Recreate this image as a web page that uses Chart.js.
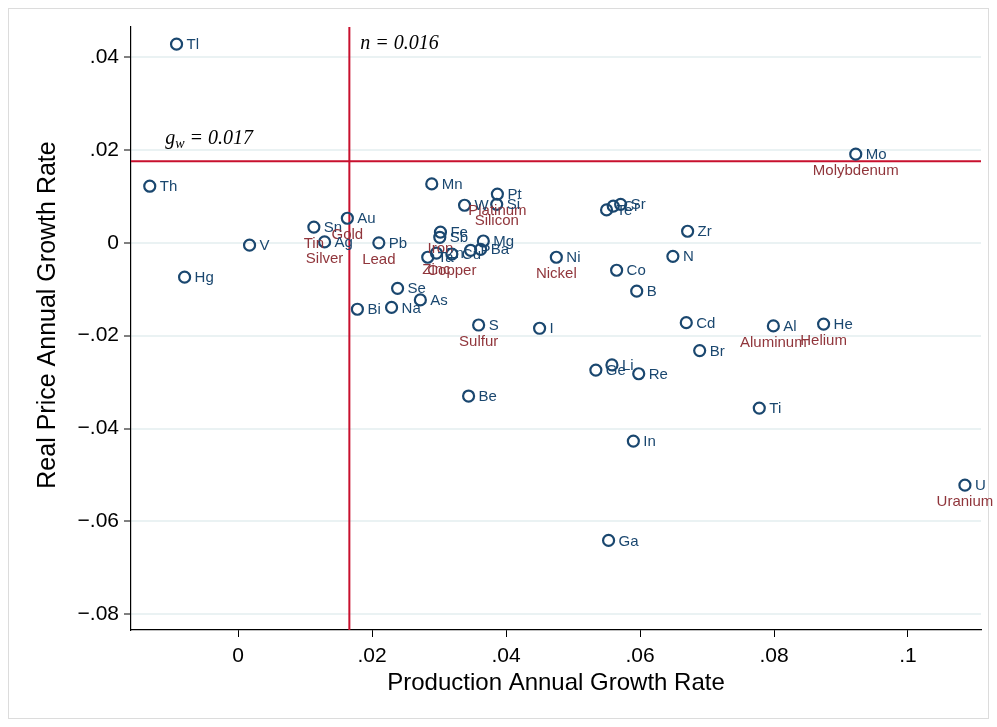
<!DOCTYPE html>
<html>
<head>
<meta charset="utf-8">
<script src="https://cdn.jsdelivr.net/npm/chart.js@4.4.1/dist/chart.umd.min.js"></script>
<style>
  html, body { margin: 0; padding: 0; background: #ffffff; }
  #wrap { position: relative; width: 997px; height: 727px; }
  canvas { display: block; }
</style>
</head>
<body>
<div id="wrap"><canvas id="c" width="997" height="727"></canvas></div>
<script>
// ---- data ----
const symbols = ["Tl","Th","V","Hg","Sn","Au","Ag","Pb","Mn","Pt","W","Si","Fe","Sb","Mg","Ta","Zn","Cu","P","Ba","Ni","Se","As","Bi","Na","S","I","Be","Ge","Li","Re","In","Ga","Ti","U","Co","B","N","Zr","Cd","Br","Al","He","Mo","Te","Cr","Sr"];
const productionGrowth = [-0.0092,-0.0132,0.0017,-0.0080,0.0113,0.0163,0.0129,0.0210,0.0289,0.0387,0.0338,0.0386,0.0302,0.0301,0.0366,0.0283,0.0296,0.0319,0.0347,0.0362,0.0475,0.0238,0.0272,0.0178,0.0229,0.0359,0.0450,0.0344,0.0534,0.0558,0.0598,0.0590,0.0553,0.0778,0.1085,0.0565,0.0595,0.0649,0.0671,0.0669,0.0689,0.0799,0.0874,0.0922,0.0550,0.0560,0.0571];
const priceGrowth = [0.0428,0.0122,-0.0005,-0.0074,0.0034,0.0053,0.0002,0.0000,0.0127,0.0105,0.0081,0.0083,0.0023,0.0012,0.0004,-0.0031,-0.0022,-0.0024,-0.0016,-0.0014,-0.0031,-0.0098,-0.0123,-0.0143,-0.0139,-0.0177,-0.0184,-0.0330,-0.0274,-0.0263,-0.0282,-0.0427,-0.0641,-0.0356,-0.0522,-0.0059,-0.0104,-0.0029,0.0025,-0.0172,-0.0232,-0.0179,-0.0175,0.0191,0.0071,0.0079,0.0083];
const highlightSymbols = ["Mo","Pt","Si","Au","Sn","Ag","Pb","Fe","Zn","Cu","Ni","S","Al","He","U"];
const highlightNames = ["Molybdenum","Platinum","Silicon","Gold","Tin","Silver","Lead","Iron","Zinc","Copper","Nickel","Sulfur","Aluminum","Helium","Uranium"];
const xTicks = [0, 0.02, 0.04, 0.06, 0.08, 0.1];
const yTicks = [-0.08, -0.06, -0.04, -0.02, 0, 0.02, 0.04];
const popGrowthLine = 0.0166;   // n = 0.016
const worldGrowthLine = 0.0176; // g_w = 0.017
const xRange = [-0.016, 0.1109];
const yRange = [-0.0834, 0.0465];
const xTitle = 'Production Annual Growth Rate';
const yTitle = 'Real Price Annual Growth Rate';

// ---- styling ----
const NAVY = '#1a476f';
const MAROON = '#90353b';
const REDLINE = '#c8102e';
const SANS = '"Liberation Sans", Arial, sans-serif';
const SERIF = '"Liberation Serif", "Times New Roman", serif';

function fmtTick(v) {
  if (Math.abs(v) < 1e-9) return '0';
  let s = parseFloat(Math.abs(v).toFixed(4)).toString().replace(/^0/, '');
  return (v < 0 ? '\u2212' : '') + s;
}

const points = symbols.map((s, i) => ({ x: productionGrowth[i], y: priceGrowth[i] }));

const frame = {
  id: 'frame',
  beforeDraw(chart) {
    const ctx = chart.ctx;
    ctx.save();
    ctx.fillStyle = '#ffffff';
    ctx.fillRect(0, 0, chart.width, chart.height);
    ctx.strokeStyle = '#dcdcdc';
    ctx.lineWidth = 1;
    ctx.strokeRect(8.5, 8.5, 980, 710);
    ctx.restore();
  },
  afterDraw(chart) {
    const ctx = chart.ctx;
    ctx.save();
    ctx.translate(48, 315);
    ctx.rotate(-Math.PI / 2);
    ctx.fillStyle = '#000';
    ctx.textAlign = 'center';
    ctx.textBaseline = 'middle';
    ctx.font = '25px ' + SANS;
    ctx.fillText(yTitle, 0, 0);
    ctx.restore();
  }
};

const refLines = {
  id: 'refLines',
  beforeDatasetsDraw(chart) {
    const { ctx, chartArea: a, scales: { x, y } } = chart;
    ctx.save();
    ctx.strokeStyle = REDLINE;
    ctx.lineWidth = 2;
    const px = x.getPixelForValue(popGrowthLine);
    const py = y.getPixelForValue(worldGrowthLine);
    ctx.beginPath();
    ctx.moveTo(px, a.top); ctx.lineTo(px, a.bottom);
    ctx.moveTo(a.left, py); ctx.lineTo(a.right, py);
    ctx.stroke();
    ctx.fillStyle = '#000';
    ctx.textBaseline = 'middle';
    ctx.textAlign = 'left';
    ctx.font = 'italic 20px ' + SERIF;
    ctx.fillText('n = 0.016', px + 11, y.getPixelForValue(0.0429));
    const gy = py - 22;
    let gx = x.getPixelForValue(-0.0109);
    ctx.fillText('g', gx, gy);
    gx += ctx.measureText('g').width;
    ctx.font = 'italic 14px ' + SERIF;
    ctx.fillText('w', gx, gy + 5);
    gx += ctx.measureText('w').width;
    ctx.font = 'italic 20px ' + SERIF;
    ctx.fillText(' = 0.017', gx, gy);
    ctx.restore();
  }
};

const pointLabels = {
  id: 'pointLabels',
  afterDatasetsDraw(chart) {
    const ctx = chart.ctx;
    const meta = chart.getDatasetMeta(0);
    ctx.save();
    ctx.textBaseline = 'middle';
    ctx.font = '15px ' + SANS;
    meta.data.forEach((el, i) => {
      ctx.fillStyle = NAVY;
      ctx.textAlign = 'left';
      ctx.fillText(symbols[i], el.x + 10, el.y + 1);
      const h = highlightSymbols.indexOf(symbols[i]);
      if (h >= 0) {
        ctx.fillStyle = MAROON;
        ctx.textAlign = 'center';
        ctx.fillText(highlightNames[h], el.x, el.y + 17);
      }
    });
    ctx.restore();
  }
};

new Chart(document.getElementById('c'), {
  type: 'scatter',
  data: {
    datasets: [{
      data: points,
      pointStyle: 'circle',
      pointRadius: 5.5,
      pointHoverRadius: 5.5,
      borderWidth: 2.2,
      borderColor: NAVY,
      backgroundColor: 'rgba(0,0,0,0)'
    }]
  },
  plugins: [frame, refLines, pointLabels],
  options: {
    responsive: false,
    animation: false,
    devicePixelRatio: 1,
    layout: { padding: { left: 0, right: 16, top: 27, bottom: 0 } },
    plugins: { legend: { display: false }, tooltip: { enabled: false } },
    scales: {
      x: {
        type: 'linear',
        min: xRange[0], max: xRange[1],
        afterBuildTicks: s => { s.ticks = xTicks.map(v => ({ value: v })); },
        afterFit: s => { s.height = 97; },
        grid: { drawOnChartArea: false, drawTicks: true, tickLength: 7, tickColor: '#000', tickWidth: 1 },
        border: { display: true, color: '#000', width: 1.2 },
        ticks: { callback: v => fmtTick(v), color: '#000', font: { family: SANS, size: 21 }, padding: 7, maxRotation: 0, autoSkip: false },
        title: { display: true, text: xTitle, color: '#000', font: { family: SANS, size: 24, lineHeight: 1.2 }, padding: { top: 0, bottom: 29 } }
      },
      y: {
        type: 'linear',
        min: yRange[0], max: yRange[1],
        afterBuildTicks: s => { s.ticks = yTicks.map(v => ({ value: v })); },
        afterFit: s => { s.width = 131; },
        grid: { drawOnChartArea: true, color: '#eaf2f3', lineWidth: 2, drawTicks: true, tickLength: 7, tickColor: '#000', tickWidth: 1 },
        border: { display: true, color: '#000', width: 1.2 },
        ticks: { callback: v => fmtTick(v), color: '#000', font: { family: SANS, size: 21 }, padding: 5, autoSkip: false },
        title: { display: false }
      }
    }
  }
});
</script>
</body>
</html>
